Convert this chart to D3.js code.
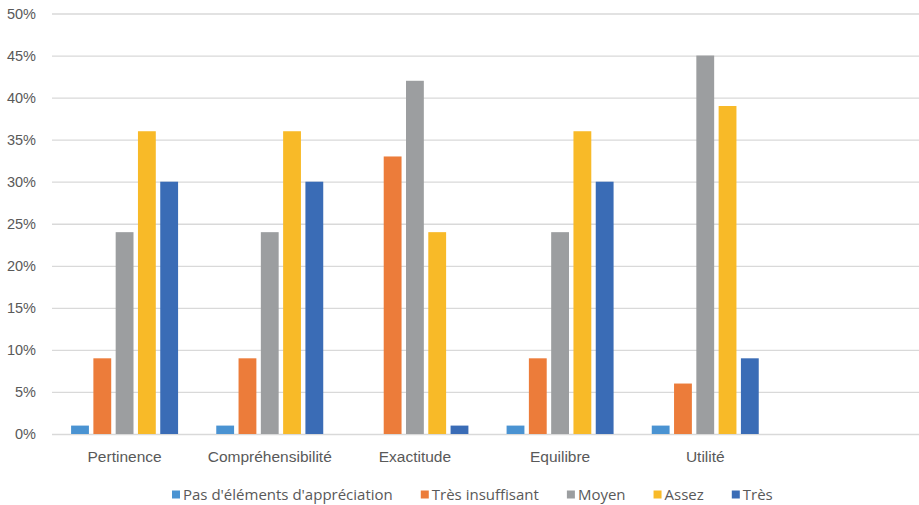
<!DOCTYPE html>
<html>
<head>
<meta charset="utf-8">
<script src="https://cdn.jsdelivr.net/npm/d3@7"></script>
<style>
  html, body { margin: 0; padding: 0; background: #ffffff; }
  svg { display: block; font-family: "Open Sans", "Noto Sans", sans-serif; }
</style>
</head>
<body>
<svg id="chart" width="919" height="505"></svg>
<script>
// Evaluation criteria (the last slot is an empty category on the axis)
const categories = ["Pertinence", "Compréhensibilité", "Exactitude", "Equilibre", "Utilité", ""];

// Rating levels and their share (%) per criterion
const seriesNames = ["Pas d'éléments d'appréciation", "Très insuffisant", "Moyen", "Assez", "Très"];
const pasElements   = [1, 1, 0, 1, 1];
const tresInsuff    = [9, 9, 33, 9, 6];
const moyen         = [24, 24, 42, 24, 45];
const assez         = [36, 36, 24, 36, 39];
const tres          = [30, 30, 1, 30, 9];
const seriesValues  = [pasElements, tresInsuff, moyen, assez, tres];

const yTicks = [0, 5, 10, 15, 20, 25, 30, 35, 40, 45, 50];
const colors = ["#4a93d2", "#ec7c3a", "#9c9ea0", "#f8ba28", "#3a6cb6"];

const svg = d3.select("#chart");
const plot = { left: 52, right: 923, top: 13.5, bottom: 434 };

const x0 = d3.scaleBand().domain(categories).range([plot.left, plot.right]).paddingInner(0).paddingOuter(0);
const groupW = x0.bandwidth() * 0.737;
const x1 = d3.scaleBand().domain(d3.range(seriesNames.length)).range([0, groupW]).paddingInner(0.2).paddingOuter(0);
const y = d3.scaleLinear().domain([0, 50]).range([plot.bottom, plot.top]);

// Horizontal gridlines with percentage labels
const yAxis = d3.axisLeft(y).tickValues(yTicks).tickFormat(d => d + "%")
  .tickSize(-(919 - plot.left)).tickPadding(16);
const gy = svg.append("g").attr("transform", `translate(${plot.left},0)`).call(yAxis);
gy.select(".domain").remove();
gy.selectAll(".tick line").attr("stroke", "#d9d9d9").attr("stroke-width", 1.3);
gy.selectAll(".tick text").attr("fill", "#595959").attr("font-size", 14.5);

// Category labels under the baseline
const xAxis = d3.axisBottom(x0).tickSize(0).tickPadding(17);
const gx = svg.append("g").attr("transform", `translate(0,${plot.bottom})`).call(xAxis);
gx.select(".domain").remove();
gx.selectAll(".tick text").attr("fill", "#595959").attr("font-size", 15.5);

// Grouped bars
const groups = svg.append("g").selectAll("g")
  .data(categories.slice(0, 5))
  .join("g")
  .attr("transform", d => `translate(${x0(d) + (x0.bandwidth() - groupW) / 2},0)`);

groups.selectAll("rect")
  .data((d, ci) => seriesValues.map((vals, si) => ({ si, v: vals[ci] })).filter(o => o.v > 0))
  .join("rect")
  .attr("x", o => x1(o.si))
  .attr("width", x1.bandwidth())
  .attr("y", o => y(o.v))
  .attr("height", o => y(0) - y(o.v))
  .attr("fill", o => colors[o.si]);

// Legend
const legend = svg.append("g").attr("transform", "translate(172,495)");
let lx = 0;
seriesNames.forEach((name, i) => {
  const item = legend.append("g").attr("transform", `translate(${lx},0)`);
  item.append("rect").attr("x", 0).attr("y", -4.5).attr("width", 8).attr("height", 8).attr("fill", colors[i]);
  const t = item.append("text").attr("x", 11).attr("y", 0).attr("dy", "0.35em")
    .attr("fill", "#595959").attr("font-size", 15).text(name);
  lx += 11 + t.node().getComputedTextLength() + 28;
});
</script>
</body>
</html>
